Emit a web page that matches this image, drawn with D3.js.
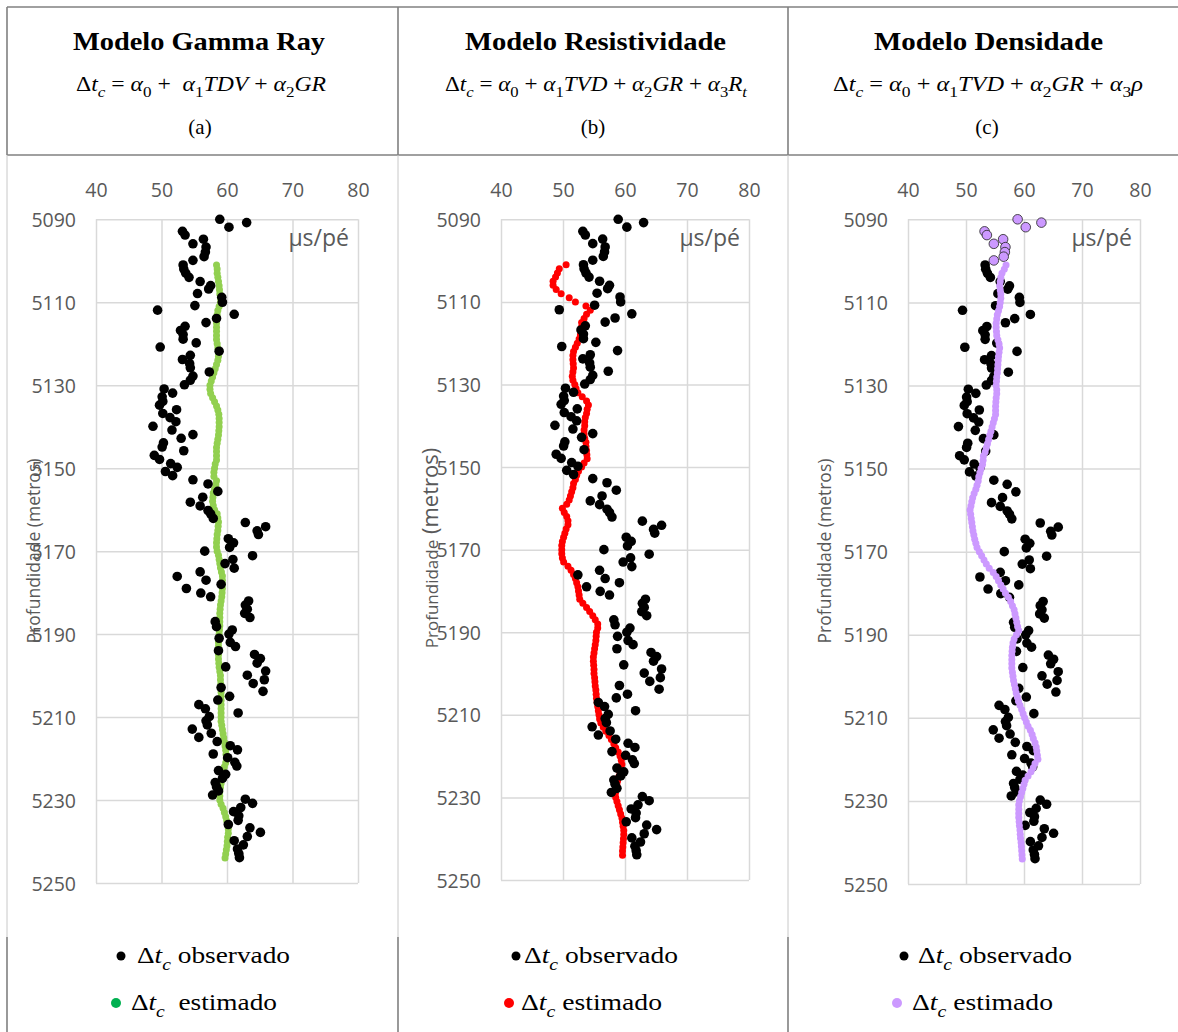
<!DOCTYPE html>
<html><head><meta charset="utf-8">
<script src="https://cdn.jsdelivr.net/npm/d3@7"></script>
<style>body{margin:0;background:#fff}svg{display:block}text{white-space:pre}</style>
</head><body>
<svg id="c" width="1178" height="1032"></svg>
<script>
// ---------------- data ----------------
const xTicks = [40, 50, 60, 70, 80];
const yTicks = [5090, 5110, 5130, 5150, 5170, 5190, 5210, 5230, 5250];
const unitLabel = "μs/pé";
const yTitle = "Profundidade (metros)";

const obsDepth = [5090.0,5090.8,5091.9,5092.9,5093.8,5094.8,5095.9,5096.7,5097.9,5099.0,5099.9,
 5101.0,5102.0,5103.0,5104.0,5105.0,5106.0,5106.8,5107.9,5108.8,5110.0,5110.8,5111.9,5112.9,5113.9,
 5114.9,5115.8,5116.8,5117.8,5118.9,5119.8,5120.8,5121.8,5122.8,5123.8,5124.8,5125.8,5126.8,5127.8,
 5128.8,5129.9,5130.9,5131.9,5132.8,5133.9,5134.8,5135.9,5136.8,5137.8,5138.8,5139.9,5140.8,5141.9,
 5142.8,5143.9,5144.9,5145.8,5146.9,5147.9,5148.9,5149.8,5150.8,5151.8,5152.8,5153.8,5155.6,5157.0,
 5158.2,5159.1,5160.2,5161.0,5162.1,5163.1,5164.1,5165.1,5166.0,5167.0,5168.0,5169.1,5170.0,5171.1,
 5172.0,5173.0,5174.1,5175.0,5176.1,5177.0,5178.0,5179.0,5180.1,5181.0,5182.0,5183.0,5184.0,5185.0,
 5186.0,5187.0,5188.2,5189.0,5190.0,5191.0,5192.0,5193.0,5194.0,5194.9,5195.9,5197.0,5197.9,5198.9,
 5199.9,5201.0,5201.9,5202.9,5203.8,5205.0,5205.9,5207.0,5208.0,5209.0,5209.9,5210.9,5211.9,5212.9,
 5213.9,5214.9,5215.9,5216.9,5217.9,5218.9,5219.8,5220.9,5221.8,5222.9,5223.8,5224.8,5225.8,5226.8,
 5227.8,5228.8,5229.8,5230.8,5231.8,5232.8,5233.8,5234.9,5235.9,5236.7,5237.8,5238.8,5239.8,5240.8,
 5241.8,5242.9,5243.9];
const obsValue = [58.9,63.0,60.3,53.2,53.6,56.4,54.8,56.8,56.7,56.5,54.8,
 53.3,53.4,53.7,54.2,55.9,57.5,57.2,55.5,59.2,59.3,55.1,49.4,61.1,58.4,
 56.8,53.6,52.9,53.3,53.3,55.3,49.8,58.8,54.4,53.2,54.3,54.4,57.3,54.8,
 54.4,53.5,50.4,51.7,50.1,50.2,49.7,52.3,50.2,51.3,52.2,48.7,51.6,54.8,
 53.0,50.3,50.1,53.4,48.9,49.7,51.4,52.4,50.6,51.7,54.8,57.1,58.6,56.3,
 54.4,55.9,57.1,57.5,57.9,62.8,65.9,64.6,64.8,60.2,61.0,60.4,56.6,63.9,
 60.9,59.7,61.1,55.9,52.4,56.8,59.1,53.8,56.0,57.5,63.3,62.8,63.1,62.7,
 63.5,58.2,58.4,60.8,60.3,58.8,60.5,61.3,58.7,64.2,65.1,64.6,59.8,65.9,
 63.1,65.7,64.0,59.1,65.5,60.4,58.6,55.7,56.7,61.7,57.3,56.8,57.0,54.7,
 57.6,55.7,58.5,60.5,61.6,57.9,60.1,61.2,61.5,58.7,59.8,59.3,58.2,58.4,
 58.7,57.8,62.8,63.9,62.1,61.0,61.8,61.7,60.2,63.5,65.1,63.1,61.1,62.5,
 61.6,61.8,61.9];

const estDepth = [5101,5102,5103,5104,5105,5106,5107,5108,5109,5110,
 5111,5112,5113,5114,5115,5116,5117,5118,5119,5120,
 5121,5122,5123,5124,5125,5126,5127,5128,5129,5130,
 5131,5132,5133,5134,5135,5136,5137,5138,5139,5140,
 5141,5142,5143,5144,5145,5146,5147,5148,5149,5150,
 5151,5152,5153,5154,5155,5156,5157,5158,5159,5160,
 5161,5162,5163,5164,5165,5166,5167,5168,5169,5170,
 5171,5172,5173,5174,5175,5176,5177,5178,5179,5180,
 5181,5182,5183,5184,5185,5186,5187,5188,5189,5190,
 5191,5192,5193,5194,5195,5196,5197,5198,5199,5200,
 5201,5202,5203,5204,5205,5206,5207,5208,5209,5210,
 5211,5212,5213,5214,5215,5216,5217,5218,5219,5220,
 5221,5222,5223,5224,5225,5226,5227,5228,5229,5230,
 5231,5232,5233,5234,5235,5236,5237,5238,5239,5240,
 5241,5242,5243,5244];

const estGamma = [58.4,58.5,58.5,58.6,58.7,58.8,58.85,58.9,59.0,59.0,
 58.8,58.6,58.5,58.4,58.4,58.4,58.4,58.4,58.4,58.5,
 58.6,58.7,58.7,58.6,58.4,58.2,58.0,57.8,57.6,57.4,
 57.4,57.5,57.8,58.1,58.4,58.6,58.75,58.8,58.8,58.8,
 58.75,58.7,58.6,58.5,58.4,58.4,58.4,58.4,58.2,58.1,
 58.0,58.0,58.4,58.3,58.1,57.9,57.85,57.8,57.9,58.1,
 58.5,58.6,58.7,58.65,58.6,58.5,58.45,58.4,58.4,58.5,
 58.7,58.8,58.9,59.0,59.15,59.3,59.3,59.3,59.3,59.25,
 59.2,59.1,59.0,58.95,58.9,58.9,58.9,58.9,58.85,58.8,
 58.75,58.7,58.7,58.7,58.7,58.7,58.75,58.8,58.9,59.0,
 59.0,59.05,59.1,59.1,59.1,59.1,59.1,59.1,59.1,59.1,
 59.1,59.2,59.3,59.4,59.5,59.6,59.7,59.8,59.85,59.9,
 59.8,59.6,59.5,59.4,59.2,59.1,59.0,58.9,58.9,58.9,
 59.1,59.4,59.6,59.8,59.95,60.1,60.2,60.2,60.1,60.05,
 60.0,59.9,59.8,59.7];

const estResist = [50.5,49.4,49.1,48.8,48.4,48.4,48.9,49.7,51.0,52.0,
 53.7,54.4,53.8,53.4,53.0,53.0,53.0,52.8,52.6,52.3,
 52.0,51.7,51.6,51.6,51.65,51.7,51.6,51.5,51.6,51.9,
 52.1,52.4,53.1,53.8,54.1,53.9,53.8,53.6,53.5,53.5,
 53.4,53.4,53.5,53.7,53.7,53.8,53.85,53.9,53.4,53.0,
 52.5,52.2,52.0,51.7,51.6,51.4,51.2,51.0,50.6,49.9,
 50.2,50.6,50.8,50.8,50.5,50.3,50.1,49.9,49.8,49.8,
 49.8,49.9,50.1,50.8,51.3,51.7,52.0,52.2,52.4,52.5,
 52.6,52.7,53.2,53.8,54.3,54.8,55.2,55.6,55.6,55.4,
 55.35,55.3,55.2,55.1,55.0,54.9,54.9,54.95,55.0,55.0,
 55.1,55.15,55.2,55.3,55.35,55.4,55.5,55.6,55.7,55.8,
 55.9,56.1,56.5,56.9,57.4,57.8,58.2,58.5,58.9,59.2,
 59.4,59.5,59.3,59.2,59.0,58.8,58.7,58.6,58.45,58.5,
 58.7,58.9,59.1,59.3,59.5,59.6,59.7,59.8,59.8,59.75,
 59.7,59.65,59.6,59.6];

const estDensity = [56.9,56.6,56.2,56.0,55.9,55.8,55.9,56.0,56.0,55.9,
 55.8,55.6,55.4,55.3,55.2,55.2,55.25,55.3,55.5,55.7,
 55.8,55.7,55.6,55.55,55.5,55.45,55.4,55.3,55.25,55.2,
 55.3,55.3,55.2,55.15,55.1,55.1,55.1,54.9,54.7,54.5,
 54.3,54.1,53.9,53.7,53.5,53.3,53.0,52.95,52.85,52.6,
 52.4,52.2,52.1,51.9,51.7,51.4,51.15,51.0,50.85,50.7,
 50.8,50.9,51.0,51.1,51.2,51.35,51.5,51.7,51.9,52.3,
 52.7,53.1,53.5,54.0,54.7,55.2,55.6,56.0,56.4,56.8,
 57.3,57.7,58.0,58.3,58.45,58.6,58.75,58.9,59.1,58.7,
 58.3,58.1,58.0,57.95,57.9,57.9,57.9,57.9,58.0,58.1,
 58.2,58.35,58.5,58.65,58.85,59.05,59.3,59.6,59.85,60.1,
 60.4,60.7,61.1,61.4,61.6,61.9,62.1,62.2,62.3,62.4,
 61.9,61.6,61.2,60.7,60.2,60.0,59.8,59.6,59.4,59.2,
 59.1,59.1,59.1,59.1,59.15,59.2,59.3,59.35,59.4,59.5,
 59.55,59.6,59.65,59.7];

const titles = ["Modelo Gamma Ray", "Modelo Resistividade", "Modelo Densidade"];
const letters = ["(a)", "(b)", "(c)"];
// formula tokens: [text, style]  r=roman, i=italic, si=italic subscript, sr=roman subscript
const formulas = [
  [["Δ","r"],["t","i"],["c","si"],[" = ","r"],["α","i"],["0","sr"],[" +  ","r"],["α","i"],["1","sr"],["TDV","i"],[" + ","r"],["α","i"],["2","sr"],["GR","i"]],
  [["Δ","r"],["t","i"],["c","si"],[" = ","r"],["α","i"],["0","sr"],[" + ","r"],["α","i"],["1","sr"],["TVD","i"],[" + ","r"],["α","i"],["2","sr"],["GR","i"],[" + ","r"],["α","i"],["3","sr"],["R","i"],["t","si"]],
  [["Δ","r"],["t","i"],["c","si"],[" = ","r"],["α","i"],["0","sr"],[" + ","r"],["α","i"],["1","sr"],["TVD","i"],[" + ","r"],["α","i"],["2","sr"],["GR","i"],[" + ","r"],["α","i"],["3","sr"],["ρ","i"]]
];
const legendObs = [["Δ","r"],["t","i"],["c","si"],[" observado","r"]];
const legendEst = [
  [["Δ","r"],["t","i"],["c","si"],["  estimado","r"]],
  [["Δ","r"],["t","i"],["c","si"],[" estimado","r"]],
  [["Δ","r"],["t","i"],["c","si"],[" estimado","r"]]
];
const estSeries = [estGamma, estResist, estDensity];

// ---------------- layout / style ----------------
const estColors = ["#92d050", "#ff0000", "#cc99ff"];
const legendColors = ["#00b050", "#ff0000", "#cc99ff"];
const layout = [
  {left:96, right:358, top:219.3, bottom:883, ytx:40, yty:551, titleX:199, titleW:252, fx:76, fw:250, lx:200,
   lg:{b1:121, t1:137, w1:153, b2:116, t2:131, w2:146}, unitX:349},
  {left:501, right:749, top:219.3, bottom:880, ytx:438, yty:548, titleX:595.5, titleW:261, fx:445, fw:302, lx:593,
   lg:{b1:516, t1:524, w1:154, b2:509, t2:521, w2:141}, unitX:740},
  {left:908, right:1140, top:219.3, bottom:884, ytx:831, yty:551, titleX:988.5, titleW:229, fx:833, fw:310, lx:987,
   lg:{b1:904, t1:918, w1:154, b2:897, t2:912, w2:141}, unitX:1132}
];
const gray = "#595959", gridC = "#d9d9d9";
const svg = d3.select("#c");

// table lines
const dark = "#808080", light = "#c8c8c8";
svg.append("line").attr("x1",7).attr("x2",1178).attr("y1",7).attr("y2",7).attr("stroke",dark).attr("stroke-width",1.6);
svg.append("line").attr("x1",7).attr("x2",1178).attr("y1",155).attr("y2",155).attr("stroke",dark).attr("stroke-width",1.6);
[7, 398, 788].forEach(xv => {
  svg.append("line").attr("x1",xv).attr("x2",xv).attr("y1",7).attr("y2",155).attr("stroke",dark).attr("stroke-width",1.6);
  svg.append("line").attr("x1",xv).attr("x2",xv).attr("y1",155).attr("y2",937).attr("stroke",light).attr("stroke-width",1);
  svg.append("line").attr("x1",xv).attr("x2",xv).attr("y1",937).attr("y2",1032).attr("stroke",dark).attr("stroke-width",1.6);
});

function mathText(parent, tokens, x, y, size, family, extra) {
  const t = parent.append("text").attr("x", x).attr("y", y)
    .attr("font-family", family).attr("font-size", size).attr("fill", "#000")
    .attr("xml:space", "preserve");
  if (extra) extra(t);
  let sub = false;
  const shift = size * 0.3;
  tokens.forEach(([s, st]) => {
    const ts = t.append("tspan").text(s);
    const isSub = st === "si" || st === "sr";
    if (isSub && !sub) ts.attr("dy", shift);
    if (!isSub && sub) ts.attr("dy", -shift);
    sub = isSub;
    if (isSub) ts.attr("font-size", size * 0.72);
    if (st === "i" || st === "si") ts.attr("font-style", "italic");
  });
  return t;
}

layout.forEach((p, k) => {
  const g = svg.append("g");
  // header
  g.append("text").attr("x", p.titleX).attr("y", 50).attr("text-anchor", "middle")
    .attr("font-family", "Liberation Serif, Times New Roman, serif").attr("font-weight", "bold")
    .attr("font-size", 26).attr("textLength", p.titleW).attr("lengthAdjust", "spacingAndGlyphs")
    .text(titles[k]);
  mathText(g, formulas[k], p.fx, 91, 20, "Liberation Serif, serif",
    t => t.attr("textLength", p.fw).attr("lengthAdjust", "spacingAndGlyphs"));
  g.append("text").attr("x", p.lx).attr("y", 134).attr("text-anchor", "middle")
    .attr("font-family", "Liberation Serif, serif").attr("font-size", 21).text(letters[k]);

  // scales
  const x = d3.scaleLinear().domain([40, 80]).range([p.left, p.right]);
  const y = d3.scaleLinear().domain([5090, 5250]).range([p.top, p.bottom]);

  const ax = g.append("g").attr("transform", `translate(0,${p.top})`)
    .call(d3.axisTop(x).tickValues(xTicks).tickSize(-(p.bottom - p.top)).tickPadding(22));
  const ay = g.append("g").attr("transform", `translate(${p.left},0)`)
    .call(d3.axisLeft(y).tickValues(yTicks).tickFormat(d3.format("d")).tickSize(-(p.right - p.left)).tickPadding(20));
  [ax, ay].forEach(a => {
    a.select(".domain").remove();
    a.selectAll("line").attr("stroke", gridC).attr("stroke-width", 1.5);
    a.selectAll("text").attr("fill", gray).attr("font-family", "Open Sans, sans-serif").attr("font-size", 19.5);
  });
  ay.selectAll("text").attr("dy", "0.36em");

  // unit
  g.append("text").attr("x", p.unitX).attr("y", 246).attr("text-anchor", "end")
    .attr("font-family", "Open Sans, sans-serif").attr("font-size", 23).attr("fill", gray).text(unitLabel);

  // y title
  const yt = g.append("text").attr("transform", `translate(${p.ytx},${p.yty}) rotate(-90)`)
    .attr("text-anchor", "middle").attr("font-family", "Open Sans, sans-serif").attr("fill", gray);
  if (k === 1) {
    yt.append("tspan").attr("font-size", 17).text("Profundidade");
    yt.append("tspan").attr("font-size", 22).text(" (metros)");
  } else {
    yt.attr("font-size", 17.5).text(yTitle);
  }

  const est = estDepth.map((d, i) => ({d, v: estSeries[k][i]}));
  const obs = obsDepth.map((d, i) => ({d, v: obsValue[i]}));

  const drawEst = () => g.append("g").selectAll("circle").data(est).join("circle")
    .attr("cx", e => x(e.v)).attr("cy", e => y(e.d)).attr("r", 3.5).attr("fill", estColors[k]);
  const drawObs = () => g.append("g").selectAll("circle").data(obs).join("circle")
    .attr("cx", e => x(e.v)).attr("cy", e => y(e.d)).attr("r", 4.8)
    .attr("fill", e => (k === 2 && e.d < 5100.5) ? estColors[2] : "#000")
    .attr("stroke", e => (k === 2 && e.d < 5100.5) ? "#222" : "none")
    .attr("stroke-width", 0.8);
  if (k === 2) { drawObs(); drawEst(); } else { drawEst(); drawObs(); }

  // legend
  const lg = p.lg;
  g.append("circle").attr("cx", lg.b1).attr("cy", 956).attr("r", 4.5).attr("fill", "#000");
  mathText(g, legendObs, lg.t1, 963, 24, "Liberation Serif, serif",
    t => t.attr("textLength", lg.w1).attr("lengthAdjust", "spacingAndGlyphs"));
  g.append("circle").attr("cx", lg.b2).attr("cy", 1003).attr("r", 5).attr("fill", legendColors[k]);
  mathText(g, legendEst[k], lg.t2, 1010, 24, "Liberation Serif, serif",
    t => t.attr("textLength", lg.w2).attr("lengthAdjust", "spacingAndGlyphs"));
});
</script>
</body></html>
